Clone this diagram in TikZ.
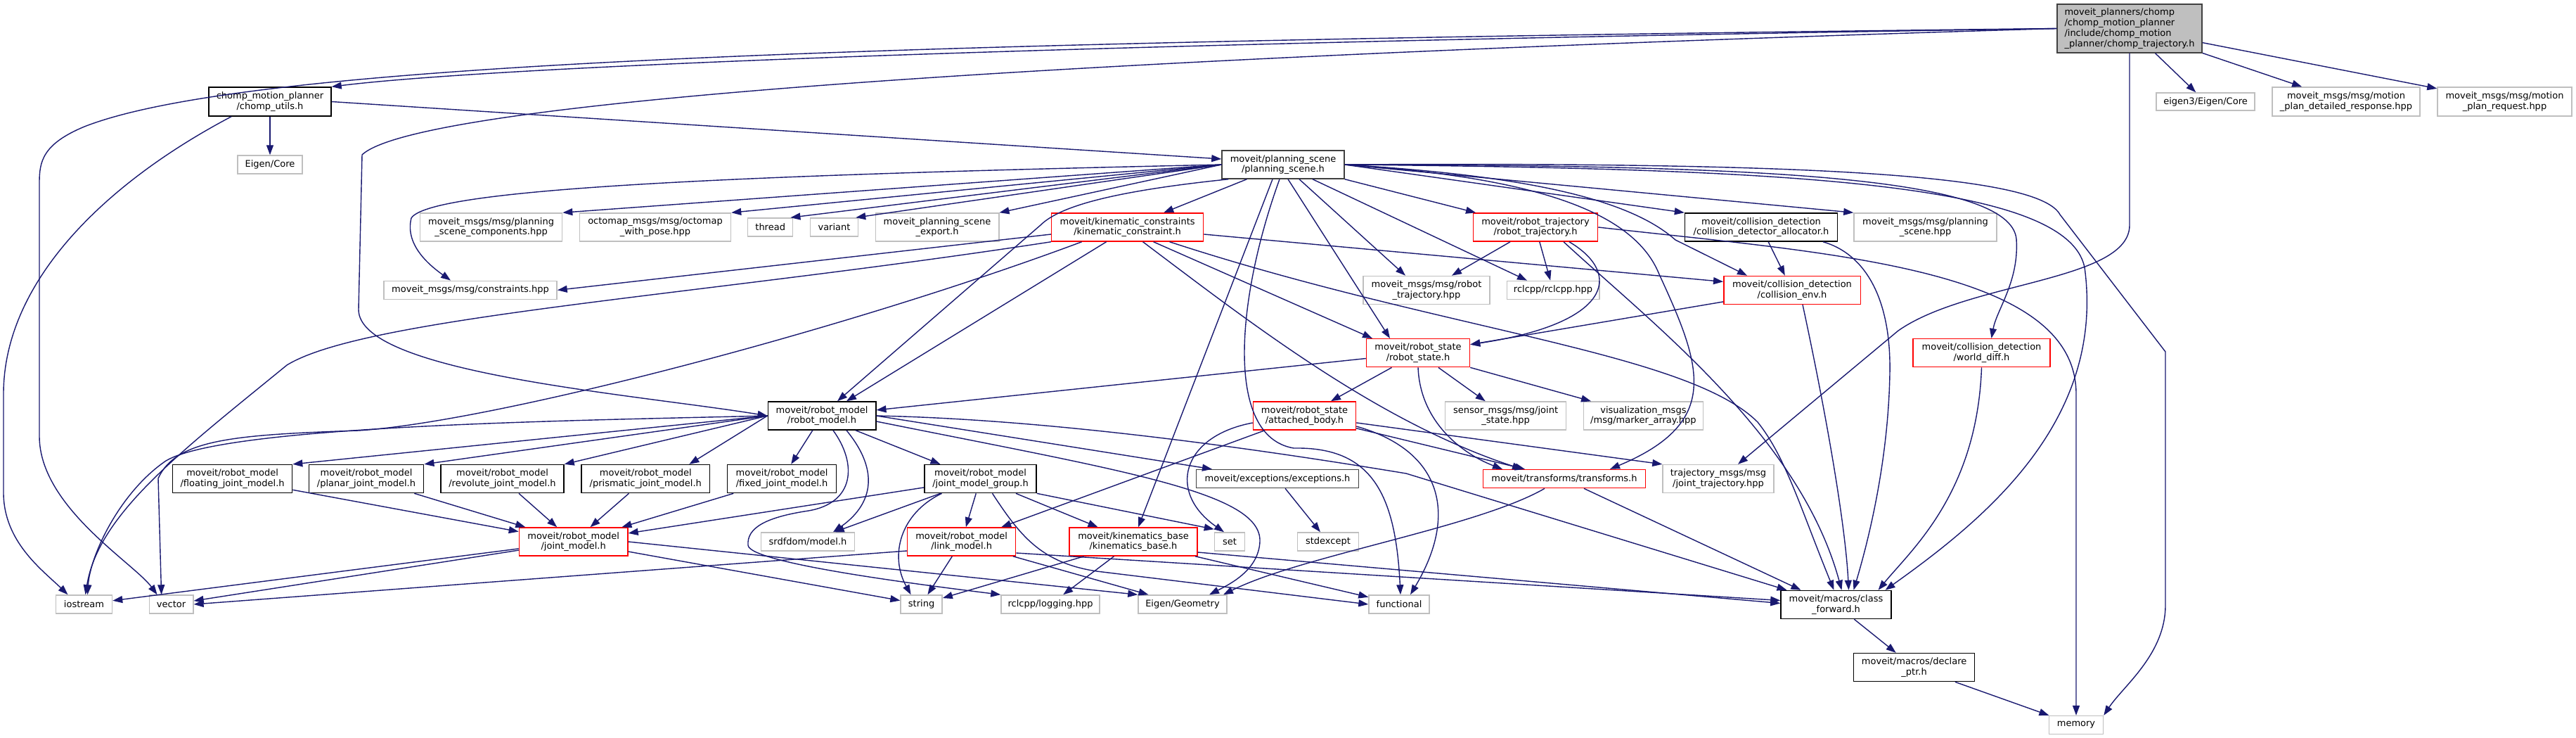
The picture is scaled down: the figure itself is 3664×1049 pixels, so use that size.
\documentclass[tikz,border=0pt]{standalone}
\usepackage{fontspec}
\newfontfamily\dxfont{DejaVu Sans}
\usepackage{tikz}
\usetikzlibrary{arrows.meta,positioning}
\definecolor{edgeblue}{HTML}{191970}
\definecolor{extgray}{HTML}{BFBFBF}
\tikzset{
  blk/.style={draw, fill=white, line width=1.5pt, align=center, inner sep=0pt, text=black, font=\dxfont\fontsize{13}{14.8}\selectfont},
  doc/.style={blk, draw=black},
  dark/.style={blk, draw=black!75},
  cut/.style={blk, draw=red},
  sys/.style={blk, draw=extgray},
  root/.style={blk, draw=black!75, fill=extgray, align=left},
  sz/.style 2 args={minimum width=#1, minimum height=#2},
  dep/.style={draw=edgeblue, line width=1.4pt, -{Triangle[length=14pt,width=10pt]}},
}
\begin{document}
\begin{tikzpicture}[x=1pt, y=-1pt]
\useasboundingbox (0,0) rectangle (3664,1049);
% top row
\node[root, sz={206}{69}] (traj) at (3029,40.5) {moveit\_planners/chomp\\/chomp\_motion\_planner\\/include/chomp\_motion\\\_planner/chomp\_trajectory.h};
\node[sys, sz={140}{25}] (eig3) at (3137,144.5) {eigen3/Eigen/Core};
\node[sys, sz={210}{41}] (mpdr) at (3337,144.5) {moveit\_msgs/msg/motion\\\_plan\_detailed\_response.hpp};
\node[sys, sz={191}{41}] (mpreq) at (3562.5,144.5) {moveit\_msgs/msg/motion\\\_plan\_request.hpp};
\node[doc, sz={174}{41}] (utils) at (384,144.5) {chomp\_motion\_planner\\/chomp\_utils.h};
\node[sys, sz={92}{26}] (ecore) at (384,234) {Eigen/Core};
\node[dark, sz={174}{40}] (ps) at (1825,234) {moveit/planning\_scene\\/planning\_scene.h};
% planning scene row
\node[sys, sz={202}{40}] (psc) at (698.6,323) {moveit\_msgs/msg/planning\\\_scene\_components.hpp};
\node[sys, sz={215}{40}] (octo) at (932,323) {octomap\_msgs/msg/octomap\\\_with\_pose.hpp};
\node[sys, sz={64}{26}] (thread) at (1095.7,323) {thread};
\node[sys, sz={68}{26}] (variant) at (1186.5,323) {variant};
\node[sys, sz={175.5}{40}] (export) at (1333,323) {moveit\_planning\_scene\\\_export.h};
\node[cut, sz={216}{40}] (kin) at (1603.6,323) {moveit/kinematic\_constraints\\/kinematic\_constraint.h};
\node[cut, sz={177}{40}] (rtraj) at (2184,323) {moveit/robot\_trajectory\\/robot\_trajectory.h};
\node[doc, sz={217}{40}] (alloc) at (2505,323) {moveit/collision\_detection\\/collision\_detector\_allocator.h};
\node[sys, sz={203}{40}] (psmsg) at (2738.5,323) {moveit\_msgs/msg/planning\\\_scene.hpp};
\node[sys, sz={246}{26}] (cons) at (669,412.4) {moveit\_msgs/msg/constraints.hpp};
\node[sys, sz={180}{40}] (rtmsg) at (2029,412.4) {moveit\_msgs/msg/robot\\\_trajectory.hpp};
\node[sys, sz={131.5}{26}] (rclcpp) at (2209,412.4) {rclcpp/rclcpp.hpp};
\node[cut, sz={194.5}{40}] (env) at (2549,412.4) {moveit/collision\_detection\\/collision\_env.h};
\node[cut, sz={147}{40}] (rstate) at (2017,501.7) {moveit/robot\_state\\/robot\_state.h};
\node[cut, sz={195}{40}] (wdiff) at (2818.5,501.7) {moveit/collision\_detection\\/world\_diff.h};
% robot model row
\node[doc, sz={153.5}{40}] (rmodel) at (1169,591) {moveit/robot\_model\\/robot\_model.h};
\node[cut, sz={146}{40}] (abody) at (1855.5,591) {moveit/robot\_state\\/attached\_body.h};
\node[sys, sz={172}{40}] (sensor) at (2141.6,591) {sensor\_msgs/msg/joint\\\_state.hpp};
\node[sys, sz={170}{40}] (vis) at (2337.4,591) {visualization\_msgs\\/msg/marker\_array.hpp};
\node[doc, sz={170}{40}] (floating) at (330.6,680.6) {moveit/robot\_model\\/floating\_joint\_model.h};
\node[doc, sz={163.3}{40}] (planar) at (521,680.6) {moveit/robot\_model\\/planar\_joint\_model.h};
\node[doc, sz={175}{40}] (revolute) at (714.5,680.6) {moveit/robot\_model\\/revolute\_joint\_model.h};
\node[doc, sz={182.6}{40}] (prismatic) at (918.3,680.6) {moveit/robot\_model\\/prismatic\_joint\_model.h};
\node[doc, sz={155}{40}] (fixed) at (1112,680.6) {moveit/robot\_model\\/fixed\_joint\_model.h};
\node[doc, sz={159}{40}] (jmg) at (1394.5,680.6) {moveit/robot\_model\\/joint\_model\_group.h};
\node[dark, sz={231}{26}] (except) at (1817,680.6) {moveit/exceptions/exceptions.h};
\node[cut, sz={231}{26}] (tf) at (2225,680.6) {moveit/transforms/transforms.h};
\node[sys, sz={158}{40}] (jtraj) at (2444,680.6) {trajectory\_msgs/msg\\/joint\_trajectory.hpp};
\node[cut, sz={154.5}{40}] (jmodel) at (815.7,770) {moveit/robot\_model\\/joint\_model.h};
\node[sys, sz={132.6}{26}] (srdf) at (1149,770) {srdfdom/model.h};
\node[cut, sz={154}{40}] (lmodel) at (1367.6,770) {moveit/robot\_model\\/link\_model.h};
\node[cut, sz={182}{40}] (kbase) at (1612,770) {moveit/kinematics\_base\\/kinematics\_base.h};
\node[sys, sz={43}{26}] (set) at (1749,770) {set};
\node[sys, sz={87}{26}] (stdexc) at (1889,770) {stdexcept};
% leaves
\node[sys, sz={80}{26}] (iostream) at (119.5,859) {iostream};
\node[sys, sz={62.5}{26}] (vector) at (243.6,859) {vector};
\node[sys, sz={59}{26}] (string) at (1310.6,859) {string};
\node[sys, sz={140}{26}] (logging) at (1494,859) {rclcpp/logging.hpp};
\node[sys, sz={126}{26}] (egeom) at (1682,859) {Eigen/Geometry};
\node[sys, sz={86}{26}] (functional) at (1990,859) {functional};
\node[doc, sz={157}{40}] (cfwd) at (2611.5,859.5) {moveit/macros/class\\\_forward.h};
\node[doc, sz={172}{40}] (declare) at (2722.6,948.6) {moveit/macros/declare\\\_ptr.h};
\node[sys, sz={77}{26}] (memory) at (2953,1030.6) {memory};
% chomp_trajectory.h
\draw[dep] (traj.west) .. controls (1500,62) and (700,95) .. (utils.north east);
\draw[dep] (traj.west) .. controls (1200,60) and (350,90) .. (120,180) .. controls (60,205) and (56,230) .. (56,260) -- (56,620) .. controls (56,720) and (190,800) .. ([xshift=-20pt]vector.north);
\draw[dep] (traj.west) .. controls (1600,80) and (600,140) .. (515,220) -- (510,440) .. controls (510,530) and (900,560) .. (rmodel.west);
\draw[dep] (traj) -- (eig3);
\draw[dep] (traj) -- (mpdr);
\draw[dep] (traj) -- (mpreq);
\draw[dep] (traj.south) -- (3029,320) .. controls (3029,400) and (2800,400) .. (2700,470) -- ([xshift=28pt]jtraj.north);
% chomp_utils.h
\draw[dep] (utils) -- (ecore);
\draw[dep] (utils.east) -- ([yshift=8pt]ps.west);
\draw[dep] ([xshift=-55pt]utils.south) .. controls (150,260) and (5,400) .. (5,560) -- (5,700) .. controls (5,770) and (60,810) .. ([xshift=-23pt]iostream.north);
% planning_scene.h fan-out
\draw[dep] (ps.west) -- (psc.north east);
\draw[dep] (ps.west) .. controls (1000,250) and (610,270) .. (585,310) .. controls (575,350) and (615,380) .. ([xshift=-28pt]cons.north);
\draw[dep] (ps.west) -- (octo.north east);
\draw[dep] (ps.west) -- ([xshift=-4pt]thread.north east);
\draw[dep] (ps.west) -- ([xshift=-4pt]variant.north east);
\draw[dep] (ps.west) -- (export.north east);
\draw[dep] (ps) -- (kin);
\draw[dep] ([xshift=10pt]ps.south west) .. controls (1600,270) and (1510,290) .. (1480,320) -- ([xshift=22pt]rmodel.north);
\draw[dep] ([xshift=-15pt]ps.south) -- ([xshift=7pt]kbase.north);
\draw[dep] ([xshift=-5pt]ps.south) .. controls (1760,420) and (1740,620) .. (1840,637) .. controls (1950,635) and (1985,700) .. ([xshift=2pt]functional.north);
\draw[dep] ([xshift=7pt]ps.south) -- ([xshift=-40pt]rstate.north);
\draw[dep] ([xshift=23pt]ps.south) -- ([xshift=-30pt]rtmsg.north);
\draw[dep] ([xshift=42pt]ps.south) -- ([xshift=-37pt]rclcpp.north);
\draw[dep] (ps.south east) -- ([xshift=-85pt]rtraj.north);
\draw[dep] (ps.east) -- (alloc.north west);
\draw[dep] (ps.east) -- (psmsg.north west);
\draw[dep] (ps.east) .. controls (2180,250) and (2320,285) .. (2383,341) -- ([xshift=-64pt]env.north);
\draw[dep] (ps.east) .. controls (2150,250) and (2320,290) .. (2360,390) .. controls (2420,520) and (2450,600) .. ([xshift=65pt]tf.north);
\draw[dep] (ps.east) .. controls (2500,235) and (2860,250) .. (2868,340) .. controls (2872,400) and (2840,440) .. ([xshift=14pt]wdiff.north);
\draw[dep] (ps.east) .. controls (2550,240) and (2940,260) .. (2965,380) .. controls (2995,600) and (2820,740) .. ([xshift=70pt]cfwd.north);
\draw[dep] (ps.east) .. controls (2600,230) and (2900,250) .. (2930,305) -- (3080,500) -- (3080,860) .. controls (3080,930) and (3020,975) .. (memory.north east);
% kinematic_constraint.h
\draw[dep] ([yshift=-10pt]kin.west) -- (cons.east);
\draw[dep] (kin.south west) .. controls (1000,420) and (520,450) .. (408,519) .. controls (260,640) and (140,730) .. ([xshift=2pt]iostream.north);
\draw[dep] ([xshift=-65pt]kin.south) .. controls (1200,470) and (700,600) .. (510,612) .. controls (330,618) and (250,625) .. (225,680) -- ([xshift=-14pt]vector.north);
\draw[dep] ([xshift=-30pt]kin.south) -- ([xshift=35pt]rmodel.north);
\draw[dep] ([xshift=37pt]kin.south) -- ([xshift=-65pt]rstate.north);
\draw[dep] ([xshift=22pt]kin.south) .. controls (1780,460) and (1960,600) .. ([xshift=-60pt]tf.north);
\draw[dep] ([xshift=60pt]kin.south) .. controls (2050,470) and (2400,500) .. (2500,600) .. controls (2540,650) and (2560,720) .. ([xshift=-3pt]cfwd.north);
\draw[dep] ([yshift=-10pt]kin.east) -- ([yshift=12pt]env.west);
% robot_trajectory.h
\draw[dep] (rtraj) -- (rtmsg);
\draw[dep] (rtraj) -- (rclcpp);
\draw[dep] ([xshift=48pt]rtraj.south) .. controls (2310,390) and (2290,460) .. ([yshift=12pt]rstate.east);
\draw[dep] ([xshift=40pt]rtraj.south) .. controls (2350,460) and (2560,620) .. ([xshift=8pt]cfwd.north);
\draw[dep] (rtraj.east) .. controls (2600,360) and (2953,380) .. (2953,560) -- (memory.north);
% collision detection
\draw[dep] (alloc) -- (env);
\draw[dep] ([xshift=88pt]alloc.south) .. controls (2650,360) and (2690,420) .. (2688,530) .. controls (2686,650) and (2660,760) .. ([xshift=25pt]cfwd.north);
\draw[dep] (env) -- ([yshift=12pt]rstate.east);
\draw[dep] ([xshift=15pt]env.south) .. controls (2600,600) and (2625,750) .. ([xshift=18pt]cfwd.north);
\draw[dep] (wdiff.south) .. controls (2812,700) and (2720,780) .. ([xshift=60pt]cfwd.north);
% robot_state.h
\draw[dep] (rstate) -- (rmodel);
\draw[dep] (rstate) -- (abody);
\draw[dep] (rstate) -- (sensor);
\draw[dep] (rstate) -- (vis);
\draw[dep] (rstate.south) .. controls (2020,600) and (2080,645) .. ([xshift=-88pt]tf.north);
% attached_body.h
\draw[dep] ([yshift=-10pt]abody.west) .. controls (1680,620) and (1660,700) .. ([xshift=-8pt]set.north);
\draw[dep] (abody) -- (lmodel);
\draw[dep] (abody) -- ([xshift=-56pt]tf.north);
\draw[dep] (abody) -- (jtraj.north west);
\draw[dep] ([yshift=-15pt]abody.east) .. controls (2050,640) and (2075,730) .. ([xshift=16pt]functional.north);
% robot_model.h
\draw[dep] (rmodel.west) -- (floating.north east);
\draw[dep] (rmodel.west) -- (planar.north east);
\draw[dep] (rmodel.west) -- (revolute.north east);
\draw[dep] (rmodel.west) -- ([xshift=-30pt]prismatic.north east);
\draw[dep] (rmodel) -- (fixed);
\draw[dep] ([xshift=48pt]rmodel.south) -- ([xshift=-57pt]jmg.north);
\draw[dep] ([xshift=35pt]rmodel.south) .. controls (1260,680) and (1230,725) .. ([xshift=36pt]srdf.north);
\draw[dep] ([xshift=16pt]rmodel.south) .. controls (1220,660) and (1215,715) .. (1150,726) .. controls (1090,735) and (1062,750) .. (1064,775) .. controls (1066,800) and (1300,830) .. (logging.north west);
\draw[dep] (rmodel.west) .. controls (800,598) and (320,605) .. (236,655) .. controls (170,700) and (128,790) .. ([xshift=5pt]iostream.north);
\draw[dep] (rmodel.east) -- ([xshift=-93pt]except.north);
\draw[dep] ([yshift=-8pt]rmodel.east) .. controls (1600,670) and (1795,700) .. (1792,770) .. controls (1790,810) and (1750,830) .. ([xshift=38pt]egeom.north);
\draw[dep] (rmodel.east) .. controls (1500,596) and (1800,640) .. (2000,673) -- ([xshift=-70pt]cfwd.north);
% joint_model_group.h
\draw[dep] (jmg) -- (jmodel);
\draw[dep] (jmg) -- (srdf);
\draw[dep] ([xshift=-55pt]jmg.south) .. controls (1280,730) and (1265,790) .. ([xshift=-15pt]string.north);
\draw[dep] (jmg) -- (lmodel);
\draw[dep] (jmg) -- (kbase);
\draw[dep] (jmg.south east) -- ([yshift=4pt]set.north west);
\draw[dep] ([xshift=17pt]jmg.south) .. controls (1450,760) and (1480,800) .. (1560,812) -- (functional.west);
% joint models
\draw[dep] (fixed) -- (jmodel);
\draw[dep] (floating) -- (jmodel);
\draw[dep] (planar) -- (jmodel);
\draw[dep] (revolute) -- (jmodel);
\draw[dep] (prismatic) -- (jmodel);
\draw[dep] (jmodel) -- (iostream);
\draw[dep] (jmodel) -- (vector);
\draw[dep] (jmodel) -- (string);
\draw[dep] (jmodel.east) -- (egeom.north west);
% link_model.h, kinematics_base.h
\draw[dep] ([yshift=-13pt]lmodel.west) -- (vector.east);
\draw[dep] (lmodel) -- (string);
\draw[dep] (lmodel) -- (egeom);
\draw[dep] ([yshift=-16pt]lmodel.east) -- ([yshift=6pt]cfwd.west);
\draw[dep] (kbase) -- (string);
\draw[dep] (kbase) -- (logging);
\draw[dep] (kbase) -- (functional);
\draw[dep] ([yshift=-15pt]kbase.east) -- ([yshift=2pt]cfwd.west);
% transforms, macros
\draw[dep] ([xshift=-28pt]tf.south) .. controls (2100,750) and (1850,790) .. ([xshift=58pt]egeom.north);
\draw[dep] ([xshift=28pt]tf.south) -- ([xshift=-50pt]cfwd.north);
\draw[dep] (except) -- (stdexc);
\draw[dep] (cfwd) -- (declare);
\draw[dep] (declare) -- (memory);
\end{tikzpicture}
\end{document}
